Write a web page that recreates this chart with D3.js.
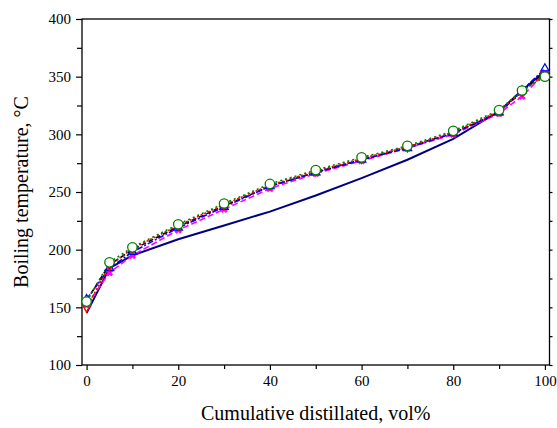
<!DOCTYPE html>
<html>
<head>
<meta charset="utf-8">
<script src="https://cdn.jsdelivr.net/npm/d3@7"></script>
<style>
  body { margin: 0; background: #fff; }
  svg text { font-family: "Liberation Serif", "Times New Roman", serif; }
</style>
</head>
<body>
<div class="chart"></div>
<script>
// cumulative distilled volume, %
const volume = [0, 5, 10, 20, 30, 40, 50, 60, 70, 80, 90, 95, 100];

// boiling temperatures, °C
const solidNavy = [145, 184, 195, 209, 221, 233, 247, 262, 278, 296, 320, 338, 355];
const redSeries = [150, 186, 201, 221, 239, 256, 268, 279, 289, 302, 320, 337, 352];
const blueSeries = [157, 184, 198, 219, 237, 255, 267, 278, 288, 301, 319, 338, 357];
const magentaSeries = [152, 180, 195, 217, 235, 253, 266, 277, 288, 300, 318, 333, 353];
const blackSeries = [156, 187, 200, 220, 238, 255, 267, 278, 289, 301, 319, 337, 354];
const greenSeries = [155, 189, 202, 222, 240, 257, 269, 280, 290, 303, 321, 338, 350];

const xTicks = [0, 20, 40, 60, 80, 100];
const yTicks = [100, 150, 200, 250, 300, 350, 400];

const W = 557, H = 428;
const mLeft = 82, mRight = 549.5, mTop = 19, mBottom = 365;

const svg = d3.select(".chart")
  .append("svg")
  .attr("width", W)
  .attr("height", H);

const x = d3.scaleLinear().domain([-1, 101]).range([mLeft, mRight]);
const y = d3.scaleLinear().domain([100, 400]).range([mBottom, mTop]);

// frame
svg.append("rect")
  .attr("x", mLeft).attr("y", mTop)
  .attr("width", mRight - mLeft).attr("height", mBottom - mTop)
  .attr("fill", "none").attr("stroke", "#000").attr("stroke-width", 1.3);

// minor ticks
const xMinor = d3.range(10, 100, 20);
const yMinor = d3.range(125, 400, 50);

svg.append("g")
  .attr("transform", `translate(0,${mBottom})`)
  .call(d3.axisBottom(x).tickValues(xTicks).tickSize(5).tickPadding(5).tickFormat(d3.format("d")));
svg.append("g")
  .attr("transform", `translate(0,${mBottom})`)
  .call(d3.axisBottom(x).tickValues(xMinor).tickSize(4).tickFormat(""));

svg.append("g")
  .attr("transform", `translate(${mLeft},0)`)
  .call(d3.axisLeft(y).tickValues(yTicks).tickSize(6).tickPadding(5).tickFormat(d3.format("d")));
svg.append("g")
  .attr("transform", `translate(${mLeft},0)`)
  .call(d3.axisLeft(y).tickValues(yMinor).tickSize(5).tickFormat(""));

// right side ticks
svg.append("g")
  .attr("transform", `translate(${mRight},0)`)
  .call(d3.axisRight(y).tickValues(yTicks.concat(yMinor)).tickSize(3).tickFormat(""));

svg.selectAll(".domain").remove();
svg.selectAll(".tick line").attr("stroke", "#000").attr("stroke-width", 1.2);
svg.selectAll(".tick text")
  .attr("font-size", "15px")
  .attr("fill", "#000")
  .style("font-family", "'Liberation Serif', serif");

// series
const line = d3.line()
  .x((d, i) => x(volume[i]))
  .y(d => y(d));

const series = [
  {vals: magentaSeries, color: "#ff00ff", dash: "6,3", marker: "x"},
  {vals: blackSeries, color: "#000000", dash: "5,3", marker: null},
  {vals: blueSeries, color: "#0000ff", dash: "6,2,2,2", marker: "tri"},
  {vals: redSeries, color: "#ff0000", dash: "2,2", marker: "triDown"},
  {vals: greenSeries, color: "#008000", dash: "2,3", marker: "circle"}
];

svg.append("path")
  .datum(solidNavy)
  .attr("d", line)
  .attr("fill", "none")
  .attr("stroke", "#000080")
  .attr("stroke-width", 2);

series.forEach(s => {
  svg.append("path")
    .datum(s.vals)
    .attr("d", line)
    .attr("fill", "none")
    .attr("stroke", s.color)
    .attr("stroke-width", 1.6)
    .attr("stroke-dasharray", s.dash);
});

const sym = {
  tri: d3.symbol().type(d3.symbolTriangle).size(30),
  triDown: d3.symbol().type(d3.symbolTriangle).size(30),
  x: d3.symbol().type(d3.symbolCross).size(30),
  circle: d3.symbol().type(d3.symbolCircle).size(70)
};

series.forEach(s => {
  if (!s.marker) return;
  svg.selectAll(null)
    .data(s.vals)
    .enter()
    .append("path")
    .attr("d", sym[s.marker])
    .attr("transform", (d, i) => {
      let t = `translate(${x(volume[i])},${y(d)})`;
      if (s.marker === "triDown") t += " rotate(180)";
      if (s.marker === "x") t += " rotate(45)";
      return t;
    })
    .attr("fill", s.marker === "x" ? s.color : (s.marker === "circle" ? "#fff" : "none"))
    .attr("stroke", s.color)
    .attr("stroke-width", s.marker === "x" ? 0.5 : 1.3);
});

// axis labels
svg.append("text")
  .attr("x", (mLeft + mRight) / 2)
  .attr("y", 420)
  .attr("text-anchor", "middle")
  .attr("font-size", "20px")
  .text("Cumulative distillated, vol%");

svg.append("text")
  .attr("transform", `translate(28,${(mTop + mBottom) / 2}) rotate(-90)`)
  .attr("text-anchor", "middle")
  .attr("font-size", "20px")
  .text("Boiling temperature, °C");
</script>
</body>
</html>
